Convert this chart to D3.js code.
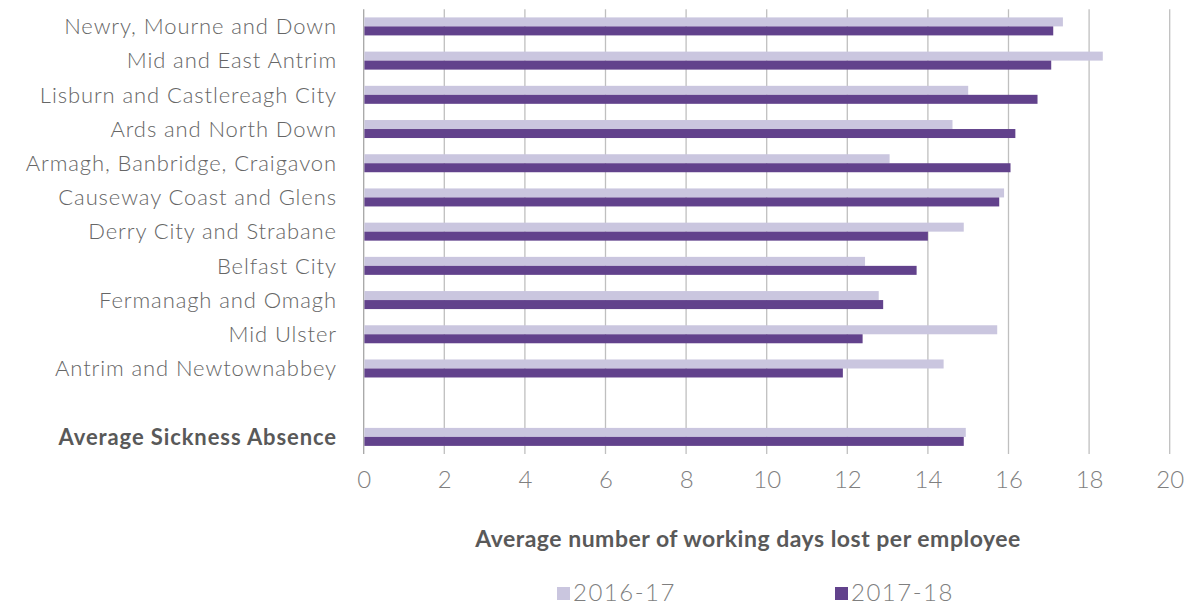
<!DOCTYPE html>
<html>
<head>
	<title>Sickness absence</title>
	<meta charset="utf-8">
	<script src="https://d3js.org/d3.v7.min.js"></script>
	<style>
		body { margin: 0; background: #fff; }
		text { font-family: "Lato", "Open Sans", sans-serif; }
	</style>
</head>
<body>
	<script type="text/javascript">
		var width = 1188
		var height = 608

		// categories top to bottom, "" is the blank gap row
		var councils = [
			"Newry, Mourne and Down",
			"Mid and East Antrim",
			"Lisburn and Castlereagh City",
			"Ards and North Down",
			"Armagh, Banbridge, Craigavon",
			"Causeway Coast and Glens",
			"Derry City and Strabane",
			"Belfast City",
			"Fermanagh and Omagh",
			"Mid Ulster",
			"Antrim and Newtownabbey",
			"",
			"Average Sickness Absence"
		]
		var days1617 = [17.35, 18.34, 15.00, 14.61, 13.05, 15.89, 14.89, 12.44, 12.78, 15.72, 14.39, null, 14.94]
		var days1718 = [17.11, 17.06, 16.72, 16.17, 16.05, 15.77, 14.00, 13.72, 12.89, 12.38, 11.89, null, 14.89]
		var seriesNames = ["2016-17", "2017-18"]
		var xTicks = [0, 2, 4, 6, 8, 10, 12, 14, 16, 18, 20]

		var colors = ["#cac6df", "#62428c"]
		var margin = {left: 363.7, right: 18.3, top: 9.3, bottom: 154}

		var svg = d3.select("body").append("svg")
			.attr("width", width)
			.attr("height", height)

		var x = d3.scaleLinear().domain([0, 20]).range([margin.left, width - margin.right])
		var y = d3.scaleBand().domain(d3.range(councils.length)).range([margin.top, height - margin.bottom])
		var inner = d3.scaleBand().domain([0, 1]).range([0, 18])
		var pad = (y.bandwidth() - 18) / 2

		// gridlines
		svg.append("g")
			.selectAll("line")
			.data(xTicks)
			.enter()
			.append("line")
				.attr("x1", d => x(d))
				.attr("x2", d => x(d))
				.attr("y1", margin.top)
				.attr("y2", height - margin.bottom)
				.attr("stroke", d => d == 0 ? "#a6a6a6" : "#bfbfbf")
				.attr("stroke-width", 1.3)

		var rows = councils.map(function(c, i) {
			return {i: i, vals: [days1617[i], days1718[i]]}
		}).filter(d => d.vals[0] != null)

		var groups = svg.append("g")
			.selectAll("g")
			.data(rows)
			.enter()
			.append("g")
				.attr("transform", d => "translate(0," + (y(d.i) + pad) + ")")

		groups.selectAll("rect")
			.data(d => d.vals)
			.enter()
			.append("rect")
				.attr("x", x(0) + 0.7)
				.attr("y", (d, k) => inner(k))
				.attr("width", d => x(d) - x(0) - 0.7)
				.attr("height", inner.bandwidth())
				.attr("fill", (d, k) => colors[k])

		// category labels
		svg.append("g")
			.selectAll("text")
			.data(councils)
			.enter()
			.append("text")
				.attr("x", 337)
				.attr("y", (d, i) => y(i) + y.bandwidth() / 2)
				.attr("dy", "0.35em")
				.attr("text-anchor", "end")
				.attr("font-size", 22)
				.attr("letter-spacing", (d, i) => i == councils.length - 1 ? 0.9 : 0.9)
				.attr("font-weight", (d, i) => i == councils.length - 1 ? 700 : 300)
				.attr("fill", (d, i) => i == councils.length - 1 ? "#595959" : "#666")
				.text(d => d)

		// x axis labels
		var axis = d3.axisBottom(x).tickValues(xTicks).tickSize(0).tickPadding(0)
		var ax = svg.append("g")
			.attr("transform", "translate(0," + (height - margin.bottom) + ")")
			.call(axis)
		ax.select(".domain").remove()
		ax.selectAll("text")
			.attr("y", 34)
			.attr("dy", 0)
			.attr("font-size", 24)
			.attr("font-weight", 300)
			.attr("fill", "#7f7f7f")
			.style("font-family", "Lato, sans-serif")

		svg.append("text")
			.attr("x", 748)
			.attr("y", 547)
			.attr("text-anchor", "middle")
			.attr("font-size", 23)
			.attr("letter-spacing", 0.5)
			.attr("font-weight", 700)
			.attr("fill", "#595959")
			.text("Average number of working days lost per employee")

		// legend
		var legX = [557, 835]
		var leg = svg.append("g")
			.selectAll("g")
			.data(seriesNames)
			.enter()
			.append("g")
				.attr("transform", (d, i) => "translate(" + legX[i] + ",587)")
		leg.append("rect")
			.attr("width", 13)
			.attr("height", 13)
			.attr("fill", (d, i) => colors[i])
		leg.append("text")
			.attr("x", 16)
			.attr("y", 14)
			.attr("font-size", 24)
			.attr("letter-spacing", 1.5)
			.attr("font-weight", 300)
			.attr("fill", "#7f7f7f")
			.text(d => d)
	</script>
</body>
</html>
